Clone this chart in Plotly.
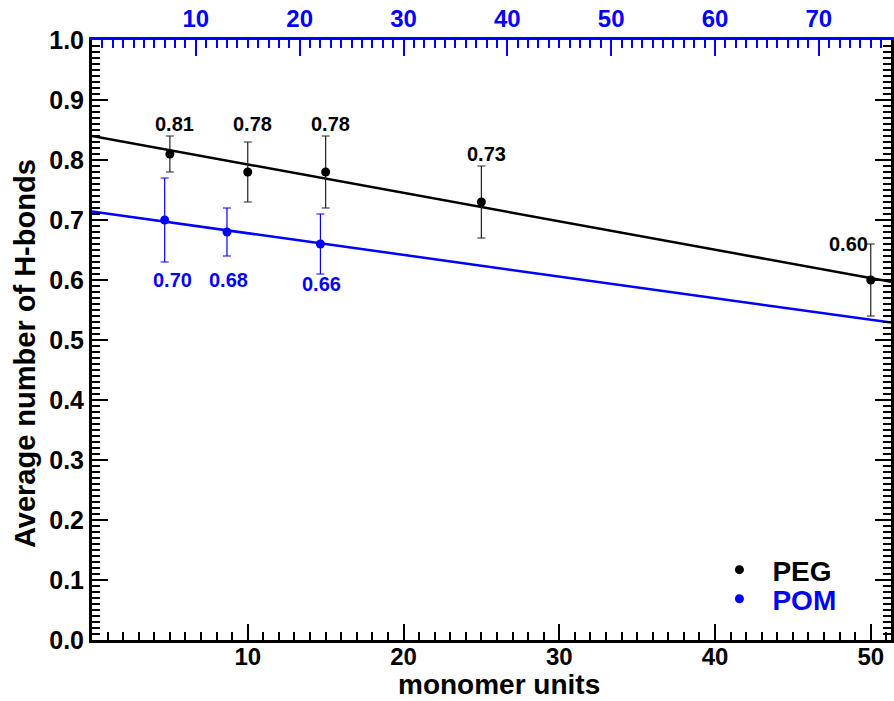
import plotly.graph_objects as go

# ---------------- data ----------------
peg_x = [5, 10, 15, 25, 50]
peg_y = [0.81, 0.78, 0.78, 0.73, 0.60]
peg_err = [0.03, 0.05, 0.06, 0.06, 0.06]
peg_labels = ["0.81", "0.78", "0.78", "0.73", "0.60"]

pom_x = [7, 13, 22]          # top (blue) axis units
pom_y = [0.70, 0.68, 0.66]
pom_err = [0.07, 0.04, 0.05]
pom_labels = ["0.70", "0.68", "0.66"]

# fitted straight lines
peg_fit_x = [0, 51.3]
peg_fit_y = [0.840, 0.597]
pom_fit_x = [0, 76.95]
pom_fit_y = [0.714, 0.529]

# label anchor positions
peg_lbl_x = [5.3, 10.3, 15.3, 25.3, 48.6]
peg_lbl_y = [0.86, 0.86, 0.86, 0.81, 0.66]
pom_lbl_x = [7.75, 13.1, 22.1]
pom_lbl_y = [0.60, 0.60, 0.593]

x_ticks = [10, 20, 30, 40, 50]
x2_ticks = [10, 20, 30, 40, 50, 60, 70]
x_range = [0, 51.3]
x2_range = [0, 76.95]
y_range = [0, 1.0]

BLUE = "#0000ff"
FONT = "Liberation Sans"

fig = go.Figure()

fig.add_trace(go.Scatter(x=peg_fit_x, y=peg_fit_y, mode="lines",
                         line=dict(color="black", width=2.5),
                         showlegend=False, hoverinfo="skip"))
fig.add_trace(go.Scatter(x=pom_fit_x, y=pom_fit_y, mode="lines", xaxis="x2",
                         line=dict(color=BLUE, width=2.5),
                         showlegend=False, hoverinfo="skip"))

fig.add_trace(go.Scatter(x=peg_x, y=peg_y, mode="markers", name="PEG",
                         marker=dict(color="black", size=9),
                         error_y=dict(type="data", array=peg_err, color="#222222",
                                      thickness=1.2, width=4),
                         legend="legend"))
fig.add_trace(go.Scatter(x=pom_x, y=pom_y, mode="markers", name="POM", xaxis="x2",
                         marker=dict(color=BLUE, size=9),
                         error_y=dict(type="data", array=pom_err, color=BLUE,
                                      thickness=1.2, width=4),
                         legend="legend2"))

for lx, ly, t in zip(peg_lbl_x, peg_lbl_y, peg_labels):
    fig.add_annotation(x=lx, y=ly, xref="x", yref="y", text=t, showarrow=False,
                       font=dict(family=FONT, size=20, color="black", weight="bold"))
for lx, ly, t in zip(pom_lbl_x, pom_lbl_y, pom_labels):
    fig.add_annotation(x=lx, y=ly, xref="x2", yref="y", text=t, showarrow=False,
                       font=dict(family=FONT, size=20, color=BLUE, weight="bold"))

# axis titles as annotations (exact placement)
fig.add_annotation(x=0.51, y=-0.1017, xref="paper", yref="paper", text="monomer units",
                   showarrow=False, xanchor="center", yanchor="bottom", borderpad=0,
                   font=dict(family=FONT, size=28, color="black", weight="bold"))
fig.add_annotation(x=-0.084, y=0.478, xref="paper", yref="paper",
                   text="Average number of H-bonds", textangle=-90,
                   showarrow=False, xanchor="center", yanchor="middle",
                   font=dict(family=FONT, size=29, color="black", weight="bold"))

fig.update_layout(
    width=894, height=701,
    margin=dict(l=92, r=0, t=40, b=61),
    paper_bgcolor="white", plot_bgcolor="white",
    font=dict(family=FONT, color="black", weight="bold"),
    xaxis=dict(range=x_range, showgrid=False, zeroline=False,
               showline=True, linecolor="black", linewidth=3,
               ticks="inside", tickmode="array", tickvals=x_ticks,
               ticklen=16, tickwidth=2, tickcolor="black", ticklabelstandoff=-7,
               tickfont=dict(family=FONT, size=24, color="black", weight="bold"),
               minor=dict(ticks="inside", dtick=1, tick0=0, ticklen=8,
                          tickwidth=2, tickcolor="black")),
    xaxis2=dict(range=x2_range, overlaying="x", side="top", anchor="y",
                showgrid=False, zeroline=False,
                showline=True, linecolor=BLUE, linewidth=3,
                ticks="inside", tickmode="array", tickvals=x2_ticks,
                ticklen=16, tickwidth=2, tickcolor=BLUE,
                tickfont=dict(family=FONT, size=24, color=BLUE, weight="bold"),
                minor=dict(ticks="inside", dtick=1, tick0=0, ticklen=8,
                           tickwidth=2, tickcolor=BLUE)),
    yaxis=dict(range=y_range, showgrid=False, zeroline=False,
               showline=True, linecolor="black", linewidth=3, mirror="ticks",
               ticks="inside", tickmode="linear", tick0=0, dtick=0.1,
               tickformat=".1f",
               ticklen=16, tickwidth=2, tickcolor="black",
               tickfont=dict(family=FONT, size=25, color="black", weight="bold"),
               minor=dict(ticks="inside", dtick=0.01, tick0=0, ticklen=8,
                          tickwidth=2, tickcolor="black")),
    legend=dict(x=0.769, y=0.1167, xanchor="left", yanchor="middle",
                bgcolor="rgba(0,0,0,0)", borderwidth=0, itemwidth=56,
                font=dict(family=FONT, size=28, color="black", weight="bold")),
    legend2=dict(x=0.769, y=0.0683, xanchor="left", yanchor="middle",
                 bgcolor="rgba(0,0,0,0)", borderwidth=0, itemwidth=56,
                 font=dict(family=FONT, size=28, color=BLUE, weight="bold")),
)

fig.write_html("out.html")
